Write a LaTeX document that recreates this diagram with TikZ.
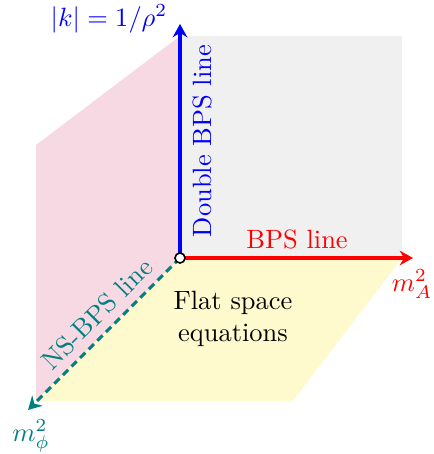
\documentclass[tikz,border=0pt]{standalone}
\usepackage{amsmath,amssymb}
\usetikzlibrary{arrows.meta,positioning}
\definecolor{planey}{RGB}{255,250,205}
\tikzset{
  ax/.style    ={line width=1.2pt,-{Stealth[length=5pt,width=5.5pt]}},
  nsax/.style  ={ax,dash pattern=on 2.8pt off 1.8pt},
  lbl/.style   ={inner sep=1pt,align=center},
  orig/.style  ={circle,draw=black,fill=white,line width=0.6pt,
                 inner sep=0pt,minimum size=3.8pt},
}

\begin{document}
\begin{tikzpicture}[x=0.378pt,y=-0.378pt]
\useasboundingbox (0,0) rectangle (433,454);
% corners of the three planes
\coordinate (O)  at (180,258);
\coordinate (Zt) at (180,36);
\coordinate (Gr) at (402,36);
\coordinate (Ar) at (402,258);
\coordinate (Pt) at (36,145);
\coordinate (Pb) at (36,401);
\coordinate (Yb) at (293,401);

% ---- planes -----------------------------------------------------------
\fill[gray!12]   (Zt) -- (Gr) -- (Ar) -- (O) -- cycle;
\fill[purple!15] (Zt) -- (Pt) -- (Pb) -- (O) -- cycle;
\fill[planey]    (O) -- (Ar) -- (Yb) -- (Pb) -- cycle;

% ---- axes -------------------------------------------------------------
\coordinate (K)   at (180,24);
\coordinate (MA)  at (413,258);
\coordinate (MP)  at (28,410);
\draw[ax,blue] (O) -- (K);
\draw[ax,red]  (O) -- (MA);
\draw[nsax,teal] (O) -- (MP);
\node[orig] (o) at (O) {};

% ---- labels -----------------------------------------------------------
\node[lbl,blue] (klab) at (109,19) {$|k|=1/\rho^2$};
\node[lbl,red]  (malab) at (412,284) {$m_A^2$};
\node[lbl,teal] (mplab) at (31,436) {$m_\phi^2$};
\node[lbl,blue,rotate=90] (dbps) at (202,141) {Double BPS line};
\node[lbl,red] (bps) at (297,239) {BPS line};
\node[lbl,teal,rotate=45] (nsbps) at (97,314) {NS-BPS line};
\node[lbl] (flat) at (233,319) {Flat space\\equations};
\end{tikzpicture}
\end{document}
